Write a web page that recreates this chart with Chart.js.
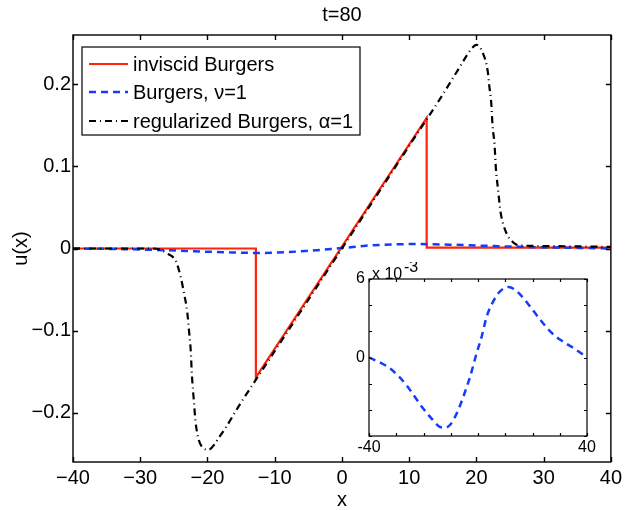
<!DOCTYPE html>
<html>
<head>
<meta charset="utf-8">
<script src="https://cdn.jsdelivr.net/npm/chart.js@4.4.0/dist/chart.umd.min.js"></script>
<style>
  html, body { margin: 0; padding: 0; background: #fff; }
  #wrap { position: relative; width: 626px; height: 510px; }
  #main { position: absolute; left: 0; top: 0; }
  #inset { position: absolute; left: 330px; top: 262px; }
</style>
</head>
<body>
<div id="wrap">
  <canvas id="main" width="626" height="510"></canvas>
  <canvas id="inset" width="290" height="200"></canvas>
</div>
<script>
// textes
const titleText = 't=80';
const xLabel = 'x';
const yLabel = 'u(x)';
const seriesLabels = ['inviscid Burgers', 'Burgers, \u03bd=1', 'regularized Burgers, \u03b1=1'];

// graduations
const xTicks = [-40, -30, -20, -10, 0, 10, 20, 30, 40];
const yTicks = [-0.2, -0.1, 0, 0.1, 0.2];
const insetXTicks = [-40, -30, -20, -10, 0, 10, 20, 30, 40];
const insetXLabels = [-40, 40];
const insetYTicks = [-6, -4, -2, 0, 2, 4, 6];
const insetYLabels = [0, 6];

// Burgers non visqueux (choc)
const xInviscid = [-40, -12.8, -12.8, 12.6, 12.6, 40];
const uInviscid = [0, 0, -0.157, 0.159, 0.001, 0.001];

// Burgers régularisé, alpha=1
const xRegular = [-40, -32, -28.5, -27.2, -26, -24.7, -24.0, -23.5, -23.0, -22.76, -22.5, -22.3, -22.0, -21.8, -21.3, -20.6, -19.9, -18.1,
  -15, -10, -5, 0, 5, 10, 15, 17.0, 19.5, 20.0, 20.9, 21.7, 21.9, 22.2, 22.4, 22.7, 22.9, 23.2, 23.6, 24.4, 25.4, 26.3, 30, 40];
const uRegular = [0, 0, 0, -0.001, -0.006, -0.0155, -0.034, -0.054, -0.078, -0.099, -0.123, -0.156, -0.188, -0.209, -0.233, -0.243, -0.245, -0.228,
  -0.1875, -0.125, -0.0625, 0, 0.0625, 0.125, 0.1875, 0.214, 0.2455, 0.248, 0.239, 0.215, 0.199, 0.178, 0.150, 0.126, 0.097, 0.073, 0.044, 0.020, 0.008, 0.004, 0.003, 0.002];

// Burgers visqueux, nu=1 (en unités de 1e-3)
const xViscous = [-40, -36, -32.4, -29.3, -26.3, -23.2, -20.1, -17.1, -14, -12.1, -10.3, -7.8, -5.4, -2.9, -0.5, 1.35, 3.2, 5.6, 8.1, 11.2, 13.6, 16.1, 19.1, 22.8, 26.5, 30.2, 35.1, 40];
const uViscous = [0, -0.38, -0.82, -1.4, -2.1, -3.0, -3.9, -4.65, -5.3, -5.36, -5.16, -4.27, -3.0, -1.46, 0.33, 1.6, 3.14, 4.29, 5.06, 5.39, 5.18, 4.67, 3.9, 2.9, 2.0, 1.35, 0.72, 0];

const FONT = "'Liberation Sans', Arial, Helvetica, sans-serif";
const RED = 'rgb(255,35,10)';
const BLUE = 'rgb(20,60,255)';
const BLACK = '#000';
const DASH_BLUE = [7, 5];
const DASH_BLACK = [7, 4, 1, 4];

function pts(xs, ys, k) {
  k = k || 1;
  return xs.map((x, i) => ({ x: x, y: ys[i] * k }));
}

function fmtNum(v, dec) {
  if (v === 0) return '0';
  return (v < 0 ? '\u2212' : '') + Math.abs(v).toFixed(dec);
}

// petites graduations vers l'intérieur sur les 4 côtés + cadre
function boxTicks(len, lw) {
  return {
    id: 'boxTicks',
    afterDraw(chart) {
      const ctx = chart.ctx, a = chart.chartArea, sx = chart.scales.x, sy = chart.scales.y;
      ctx.save();
      ctx.strokeStyle = '#000';
      ctx.lineWidth = lw;
      ctx.beginPath();
      sx.ticks.forEach(t => {
        const px = Math.round(sx.getPixelForValue(t.value)) + 0.5;
        ctx.moveTo(px, a.bottom); ctx.lineTo(px, a.bottom - len);
        ctx.moveTo(px, a.top); ctx.lineTo(px, a.top + len);
      });
      sy.ticks.forEach(t => {
        const py = Math.round(sy.getPixelForValue(t.value)) + 0.5;
        ctx.moveTo(a.left, py); ctx.lineTo(a.left + len, py);
        ctx.moveTo(a.right, py); ctx.lineTo(a.right - len, py);
      });
      ctx.stroke();
      ctx.strokeRect(a.left, a.top, a.right - a.left, a.bottom - a.top);
      ctx.restore();
    }
  };
}

// légende dans le coin haut gauche
const legendBox = {
  id: 'legendBox',
  afterDraw(chart) {
    const ctx = chart.ctx, a = chart.chartArea;
    const x0 = a.left + 9, y0 = a.top + 12, w = 278, h = 88;
    const rows = [17, 45, 74];
    ctx.save();
    ctx.fillStyle = '#fff';
    ctx.fillRect(x0, y0, w, h);
    ctx.strokeStyle = '#000';
    ctx.lineWidth = 1.2;
    ctx.strokeRect(x0, y0, w, h);
    ctx.font = '20px ' + FONT;
    ctx.textBaseline = 'middle';
    chart.data.datasets.forEach((ds, i) => {
      const y = y0 + rows[i];
      ctx.strokeStyle = ds.borderColor;
      ctx.lineWidth = ds.borderWidth;
      ctx.setLineDash(ds.borderDash || []);
      ctx.beginPath();
      ctx.moveTo(x0 + 7, y);
      ctx.lineTo(x0 + 46, y);
      ctx.stroke();
      ctx.setLineDash([]);
      ctx.fillStyle = '#000';
      ctx.fillText(ds.label, x0 + 51, y + 1);
    });
    ctx.restore();
  }
};

new Chart(document.getElementById('main'), {
  type: 'line',
  data: {
    datasets: [
      { label: seriesLabels[0], data: pts(xInviscid, uInviscid), borderColor: RED, borderWidth: 2.2, pointRadius: 0, tension: 0, order: 3 },
      { label: seriesLabels[1], data: pts(xViscous, uViscous, 1e-3), borderColor: BLUE, borderWidth: 2.5, borderDash: DASH_BLUE, pointRadius: 0, cubicInterpolationMode: 'monotone', order: 2 },
      { label: seriesLabels[2], data: pts(xRegular, uRegular), borderColor: BLACK, borderWidth: 2.2, borderDash: DASH_BLACK, pointRadius: 0, cubicInterpolationMode: 'monotone', order: 1 }
    ]
  },
  options: {
    responsive: false,
    animation: false,
    devicePixelRatio: 1,
    layout: { padding: { left: 0, right: 10, top: 0, bottom: 0 } },
    plugins: {
      legend: { display: false },
      tooltip: { enabled: false },
      title: {
        display: true, text: titleText, color: '#000', fullSize: false,
        font: { family: FONT, size: 20, weight: 'normal', lineHeight: 1.2 },
        padding: { top: 3, bottom: 8 }
      }
    },
    scales: {
      x: {
        type: 'linear', min: -40, max: 40,
        afterBuildTicks: s => { s.ticks = xTicks.map(v => ({ value: v })); },
        afterFit: s => { s.height = 48; },
        grid: { display: false, drawTicks: false }, border: { display: false },
        ticks: { color: '#000', font: { family: FONT, size: 20 }, padding: 4, maxRotation: 0, autoSkip: false, callback: v => fmtNum(v, 0) },
        title: { display: true, text: xLabel, color: '#000', font: { family: FONT, size: 20, lineHeight: 1 }, padding: { top: 0, bottom: 0 } }
      },
      y: {
        type: 'linear', min: -0.26, max: 0.26,
        afterBuildTicks: s => { s.ticks = yTicks.map(v => ({ value: v })); },
        afterFit: s => { s.width = 73; },
        grid: { display: false, drawTicks: false }, border: { display: false },
        ticks: { color: '#000', font: { family: FONT, size: 20 }, padding: 2, autoSkip: false, callback: v => fmtNum(v, 1) },
        title: { display: true, text: yLabel, color: '#000', font: { family: FONT, size: 20, lineHeight: 1.2 }, padding: { top: 9, bottom: 0 } }
      }
    }
  },
  plugins: [boxTicks(5, 1.4), legendBox]
});

// fond blanc + exposant pour l'encart
const insetDeco = {
  id: 'insetDeco',
  beforeDraw(chart) {
    const ctx = chart.ctx, a = chart.chartArea;
    ctx.save();
    ctx.fillStyle = '#fff';
    ctx.fillRect(a.left, a.top, a.right - a.left, a.bottom - a.top);
    ctx.restore();
  },
  afterDraw(chart) {
    const ctx = chart.ctx, a = chart.chartArea;
    ctx.save();
    ctx.fillStyle = '#000';
    ctx.textBaseline = 'alphabetic';
    ctx.font = '16px ' + FONT;
    ctx.fillText('x 10', a.left + 3, a.top);
    ctx.fillText('-3', a.left + 35, a.top - 7);
    ctx.restore();
  }
};

new Chart(document.getElementById('inset'), {
  type: 'line',
  data: {
    datasets: [
      { label: seriesLabels[1], data: pts(xViscous, uViscous), borderColor: BLUE, borderWidth: 2.5, borderDash: DASH_BLUE, pointRadius: 0, cubicInterpolationMode: 'monotone' }
    ]
  },
  options: {
    responsive: false,
    animation: false,
    devicePixelRatio: 1,
    layout: { padding: { left: 0, right: 33, top: 17, bottom: 0 } },
    plugins: { legend: { display: false }, tooltip: { enabled: false } },
    scales: {
      x: {
        type: 'linear', min: -40, max: 40,
        afterBuildTicks: s => { s.ticks = insetXTicks.map(v => ({ value: v })); },
        afterFit: s => { s.height = 26; },
        grid: { display: false, drawTicks: false }, border: { display: false },
        ticks: { color: '#000', font: { family: FONT, size: 16 }, padding: 2, maxRotation: 0, autoSkip: false,
          callback: v => insetXLabels.includes(v) ? String(v) : '' }
      },
      y: {
        type: 'linear', min: -6, max: 6,
        afterBuildTicks: s => { s.ticks = insetYTicks.map(v => ({ value: v })); },
        afterFit: s => { s.width = 39; },
        grid: { display: false, drawTicks: false }, border: { display: false },
        ticks: { color: '#000', font: { family: FONT, size: 16 }, padding: 4, autoSkip: false,
          callback: v => insetYLabels.includes(v) ? String(v) : '' }
      }
    }
  },
  plugins: [insetDeco, boxTicks(3, 1.2)]
});
</script>
</body>
</html>
